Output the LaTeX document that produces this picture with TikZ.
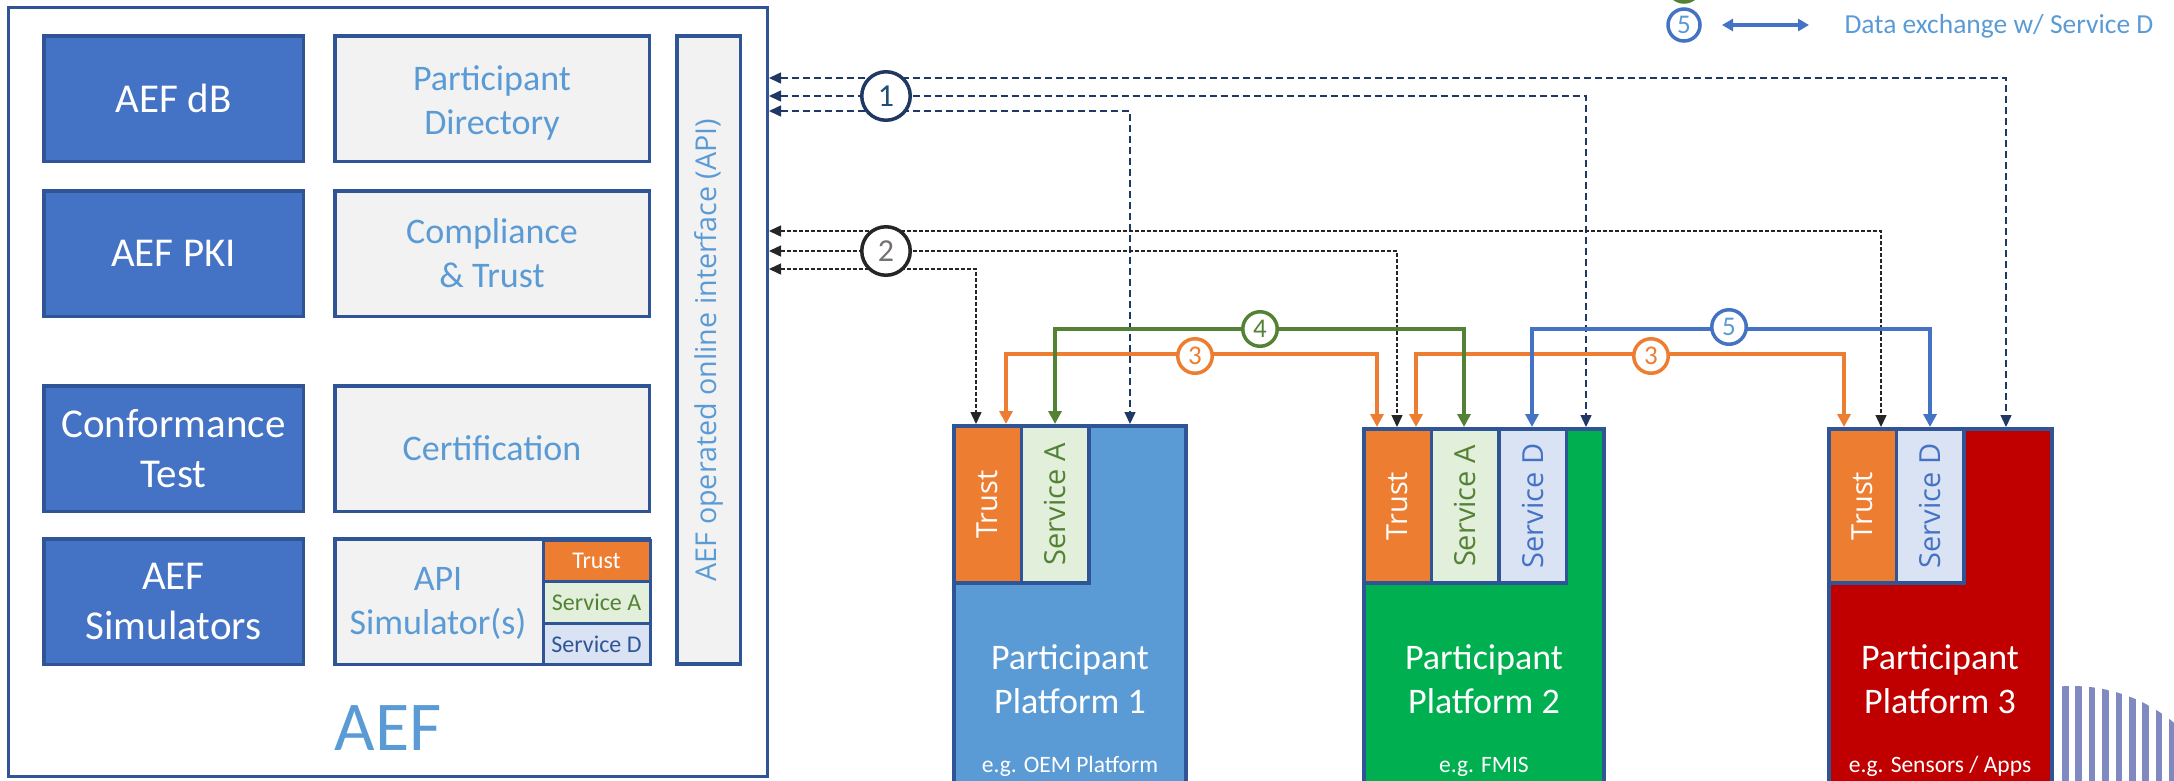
\documentclass[tikz,border=0pt]{standalone}
\usepackage{fontspec}
\usepackage{graphicx}
\setmainfont{Carlito}
\newfontfamily\osans{Open Sans}
\usetikzlibrary{arrows.meta}
%Cores
\definecolor{borda}{HTML}{2F5597}
\definecolor{azulesc}{HTML}{4472C4}
\definecolor{azulcl}{HTML}{5B9BD5}
\definecolor{cinza}{HTML}{F2F2F2}
\definecolor{laranja}{HTML}{ED7D31}
\definecolor{verde}{HTML}{548235}
\definecolor{verdecl}{HTML}{E2EFDA}
\definecolor{azulsd}{HTML}{DAE3F3}
\definecolor{verdepl}{HTML}{00B050}
\definecolor{vermelho}{HTML}{C00000}
\definecolor{marinho}{HTML}{203864}
\definecolor{azulum}{HTML}{1F4E79}
\definecolor{preto}{HTML}{262626}
\definecolor{cinzaesc}{HTML}{767171}
\definecolor{listra}{HTML}{8189C1}

\begin{document}
\begin{tikzpicture}[x=1pt,y=-1pt, %unidade = pixel, y para baixo
	escura/.style={draw=borda, line width=3.5pt, fill=azulesc, text=white, align=center, inner sep=0pt,
		minimum width=259.5pt, minimum height=125.5pt, font=\fontsize{41}{50}\selectfont},
	clara/.style={draw=borda, line width=3.5pt, fill=cinza, text=azulcl, align=center, inner sep=0pt,
		minimum width=314.5pt, minimum height=125.5pt, font=\fontsize{36}{44}\selectfont},
	mini/.style={draw=borda, line width=3pt, inner sep=0pt, minimum width=107pt, minimum height=41.5pt,
		font=\fontsize{24}{24}\selectfont},
	plat/.style={draw=borda, line width=4pt, inner sep=0pt},
	celula/.style={draw=borda, line width=3.5pt, inner sep=0pt, minimum width=67.5pt,
		font=\osans\fontsize{29}{29}\selectfont},
	ptxt/.style={text=white, align=center, font=\fontsize{36}{44}\selectfont},
	eg/.style={anchor=base, text=white, font=\fontsize{23.5}{24}\selectfont},
	num/.style={circle, draw=#1, line width=3.5pt, fill=white, inner sep=0pt, minimum size=34.5pt,
		font=\fontsize{27}{27}\selectfont},
	numg/.style={num=#1, minimum size=48.5pt, font=\fontsize{32}{32}\selectfont},
	lig1/.style={draw=marinho, line width=1.5pt, dash pattern=on 7pt off 4pt,
		>={Triangle[length=12pt,width=11pt]}, <->},
	lig2/.style={draw=preto, line width=1.5pt, dash pattern=on 4pt off 2pt,
		>={Triangle[length=12pt,width=11pt]}, <->},
	ligc/.style={draw=#1, line width=4pt, >={Triangle[length=13pt,width=13pt]}, <->}
	]
	\useasboundingbox (0,0) rectangle (2174,780);

	%Logo (cortado)
	\begin{scope}
		\clip (2072,846) circle (160pt);
		\foreach \i in {0,...,8}
			\fill[listra] (2062+13.4*\i,680) rectangle ++(6.5,110);
	\end{scope}

	%Caixa AEF
	\node[draw=borda, line width=3pt, minimum width=759pt, minimum height=769pt, inner sep=0pt] (aef) at (388,392) {};
	\node[anchor=base, text=azulcl, font=\fontsize{70}{70}\selectfont] (aeflbl) at (388,750) {AEF};
	\node[escura] (db) at (173.5,98.5) {AEF dB};
	\node[escura] (pki) at (173.5,253.5) {AEF PKI};
	\node[escura] (conf) at (173.5,448.5) {Conformance\\Test};
	\node[escura] (sim) at (173.5,601.5) {AEF\\Simulators};
	\node[clara] (dir) at (492,98.5) {};
	\node[text=azulcl, align=center, font=\fontsize{36}{44}\selectfont] (dirtxt) at (492,103) {Participant\\Directory};
	\node[clara] (comp) at (492,253.5) {Compliance\\\& Trust};
	\node[clara] (cert) at (492,448.5) {Certification};
	\node[clara] (apisim) at (492,601.5) {};
	\node[text=azulcl, align=center, font=\fontsize{36}{44}\selectfont] (apisimtxt) at (438,603) {API\\Simulator(s)};
	\node[mini, fill=laranja, text=white] (simtrust) at (596.5,561) {Trust};
	\node[mini, fill=verdecl, text=verde] (simsa) at (596.5,602.5) {Service A};
	\node[mini, fill=azulsd, text=borda] (simsd) at (596.5,644) {Service D};
	%Barra da API
	\node[draw=borda, line width=3.5pt, fill=cinza, minimum width=63.5pt, minimum height=628pt, inner sep=0pt] (api) at (708.5,350) {};
	\node[rotate=90, text=azulcl, font=\osans\fontsize{28.7}{30}\selectfont] (apitxt) at (api.center) {AEF operated online interface (API)};

	%Plataformas
	\node[plat, fill=azulcl, minimum width=232pt, minimum height=374pt] (ptf1) at (1070,613) {};
	\node[plat, fill=verdepl, minimum width=240pt, minimum height=371pt] (ptf2) at (1484,614.5) {};
	\node[plat, fill=vermelho, minimum width=223pt, minimum height=371pt] (ptf3) at (1940.5,614.5) {};
	\node[celula, minimum height=157pt, fill=laranja, text=white] (p1trust) at (987.5,504.5) {\rotatebox{90}{Trust}};
	\node[celula, minimum height=157pt, fill=verdecl, text=verde] (p1sa) at (1055,504.5) {\rotatebox{90}{Service A}};
	\node[celula, minimum height=154pt, fill=laranja, text=white] (p2trust) at (1397.5,506) {\rotatebox{90}{Trust}};
	\node[celula, minimum height=154pt, fill=verdecl, text=verde] (p2sa) at (1465,506) {\rotatebox{90}{Service A}};
	\node[celula, minimum height=154pt, fill=azulsd, text=azulesc] (p2sd) at (1532.5,506) {\rotatebox{90}{Service D}};
	\node[celula, minimum height=154pt, fill=laranja, text=white] (p3trust) at (1862.75,506) {\rotatebox{90}{Trust}};
	\node[celula, minimum height=154pt, fill=azulsd, text=azulesc] (p3sd) at (1930.25,506) {\rotatebox{90}{Service D}};
	\node[ptxt] (p1txt) at (1070,679) {Participant\\Platform 1};
	\node[ptxt] (p2txt) at (1484,679) {Participant\\Platform 2};
	\node[ptxt] (p3txt) at (1940,679) {Participant\\Platform 3};
	\node[eg] (p1eg) at (1070,772) {e.g. OEM Platform};
	\node[eg] (p2eg) at (1484,772) {e.g. FMIS};
	\node[eg] (p3eg) at (1940,772) {e.g. Sensors / Apps};

	%Ligacoes 1 (diretorio)
	\coordinate (d1a) at (2006,78);
	\coordinate (d1b) at (1586,96);
	\coordinate (d1c) at (1130,111);
	\draw[lig1] (aef.east |- d1a) -| (ptf3.north -| d1a);
	\draw[lig1] (aef.east |- d1b) -| (ptf2.north -| d1b);
	\draw[lig1] (aef.east |- d1c) -| (ptf1.north -| d1c);
	%Ligacoes 2 (trust)
	\coordinate (d2a) at (1881,231);
	\coordinate (d2b) at (1397,251);
	\coordinate (d2c) at (976,269);
	\draw[lig2] (aef.east |- d2a) -| (ptf3.north -| d2a);
	\draw[lig2] (aef.east |- d2b) -| (ptf2.north -| d2b);
	\draw[lig2] (aef.east |- d2c) -| (ptf1.north -| d2c);
	%Ligacoes 3, 4 e 5
	\coordinate (t1a) at (1006,354); \coordinate (t1b) at (1377,354);
	\coordinate (t2a) at (1416,354); \coordinate (t2b) at (1844,354);
	\coordinate (sa1) at (1055,329); \coordinate (sa2) at (1464,329);
	\coordinate (sd1) at (1532,329); \coordinate (sd2) at (1930,329);
	\draw[ligc=laranja] (ptf1.north -| t1a) -- (t1a) -- (t1b) -- (ptf2.north -| t1b);
	\draw[ligc=laranja] (ptf2.north -| t2a) -- (t2a) -- (t2b) -- (ptf3.north -| t2b);
	\draw[ligc=verde] (ptf1.north -| sa1) -- (sa1) -- (sa2) -- (ptf2.north -| sa2);
	\draw[ligc=azulesc] (ptf2.north -| sd1) -- (sd1) -- (sd2) -- (ptf3.north -| sd2);

	%Numeros
	\node[numg=marinho, text=azulum] (n1) at (886,96) {1};
	\node[numg=preto, text=cinzaesc] (n2) at (886,251) {2};
	\node[num=laranja, text=laranja] (n3a) at (1195,356) {3};
	\node[num=laranja, text=laranja] (n3b) at (1651,356) {3};
	\node[num=verde, text=verde] (n4) at (1260,329) {4};
	\node[num=azulesc, text=azulcl] (n5) at (1729,327) {5};

	%Legenda
	\node[num=verde, minimum size=32pt] (leg4) at (1684,-14) {};
	\node[num=azulesc, text=azulcl, minimum size=32pt] (leg5) at (1684,25) {5};
	\coordinate (lega) at (1722,25);
	\coordinate (legb) at (1809,25);
	\draw[ligc=azulesc, >={Triangle[length=11pt,width=12pt]}] (lega) -- (legb);
	\node[anchor=base west, text=azulcl, font=\fontsize{27.5}{28}\selectfont] (legtxt) at (1841,33) {Data exchange w/ Service D};
\end{tikzpicture}
\end{document}
